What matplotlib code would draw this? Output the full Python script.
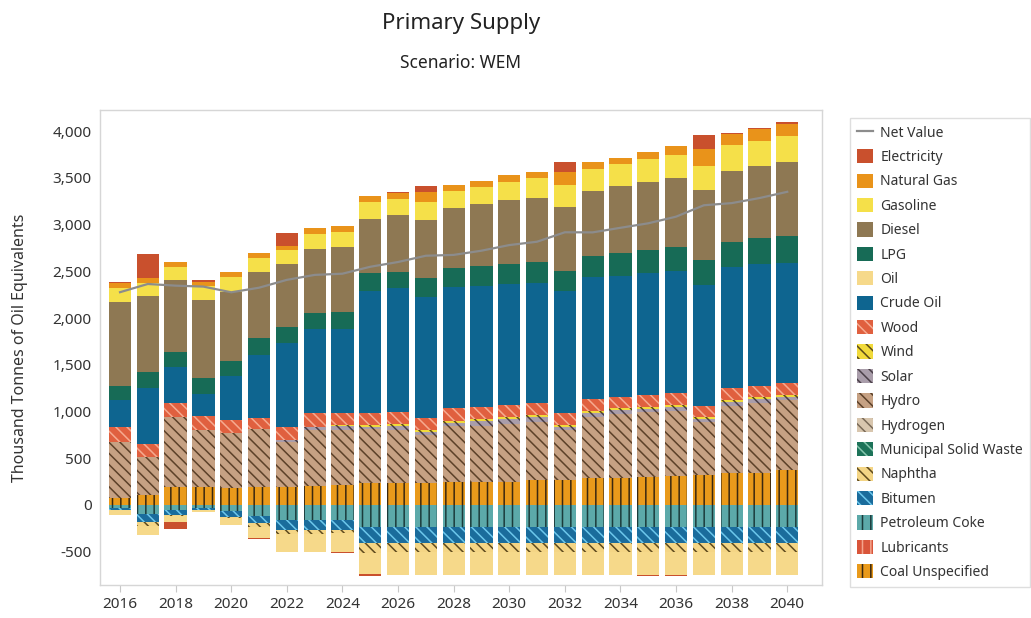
import matplotlib
matplotlib.use("Agg")
import matplotlib.pyplot as plt
import numpy as np
from matplotlib.patches import Patch
from matplotlib.lines import Line2D
from matplotlib.ticker import FuncFormatter

plt.rcParams['font.family'] = ['Noto Sans', 'DejaVu Sans']
plt.rcParams['hatch.linewidth'] = 1.1

years = list(range(2016, 2041))

# values in thousand tonnes of oil equivalent (positive = supply, negative = exports/etc.)
coal_unspecified = [70, 107, 189, 189, 178, 189, 196, 203, 214, 232, 232, 232, 250, 250, 250, 267, 267, 285, 285, 303, 310, 321, 339, 346, 374]
lubricants = [0] * 25
petroleum_coke = [-35, -100, -53, -35, -60, -118, -160, -160, -160, -232, -232, -232, -232, -232, -232, -232, -232, -232, -232, -232, -232, -232, -232, -232, -232]
bitumen = [-20, -78, -53, -20, -64, -71, -107, -107, -107, -178, -178, -178, -178, -178, -178, -178, -178, -178, -178, -178, -178, -178, -178, -178, -178]
naphtha = [0, -46, -15, 0, -15, -43, -46, -46, -36, -100, -89, -89, -89, -89, -89, -89, -89, -89, -89, -89, -89, -89, -89, -89, -89]
municipal_solid_waste = [0] * 25
hydrogen = [0] * 25
hydro = [607, 410, 755, 613, 595, 620, 479, 598, 588, 577, 574, 516, 590, 599, 621, 624, 537, 658, 687, 687, 698, 570, 722, 744, 745]
solar = [0, 0, 0, 0, 0, 0, 20, 30, 40, 25, 35, 32, 40, 45, 45, 50, 30, 40, 40, 40, 40, 30, 40, 40, 35]
wind = [0, 0, 0, 0, 0, 0, 0, 0, 14, 22, 22, 22, 22, 22, 22, 22, 22, 22, 22, 22, 22, 22, 22, 22, 22]
wood = [160, 135, 143, 150, 136, 125, 143, 149, 132, 132, 135, 125, 132, 136, 132, 131, 124, 125, 125, 124, 131, 118, 125, 121, 125]
crude_oil = [286, 596, 392, 235, 471, 670, 891, 899, 891, 1304, 1319, 1301, 1301, 1294, 1290, 1284, 1312, 1305, 1294, 1302, 1305, 1294, 1301, 1301, 1291]
oil = [-50, -96, -60, -16, -80, -118, -185, -185, -196, -232, -250, -250, -250, -250, -250, -250, -250, -250, -250, -250, -250, -250, -250, -250, -250]
lpg = [150, 178, 161, 168, 163, 179, 178, 178, 188, 186, 178, 203, 203, 214, 217, 224, 214, 232, 239, 249, 250, 267, 267, 278, 288]
diesel = [902, 809, 766, 837, 738, 706, 671, 678, 695, 584, 606, 617, 636, 656, 685, 678, 685, 695, 723, 731, 737, 748, 759, 774, 784]
gasoline = [143, 136, 143, 154, 160, 157, 150, 160, 160, 182, 171, 189, 189, 189, 196, 214, 232, 228, 228, 239, 250, 257, 275, 271, 282]
natural_gas = [53, 53, 53, 36, 53, 46, 46, 64, 61, 61, 61, 107, 61, 64, 71, 71, 143, 75, 71, 75, 100, 178, 118, 125, 128]
electricity = [10, 260, -75, 25, 0, -18, 132, 0, -10, -15, 15, 71, 0, 0, 0, 0, 100, 0, 0, -10, -10, 150, 10, 10, 25]

# (name, data, face colour, hatch, hatch colour) in stacking order (bottom first)
series = [
    ("Coal Unspecified", coal_unspecified, "#E99A1B", "||", "#3A2810"),
    ("Lubricants", lubricants, "#D9553A", "||", "#F4A48C"),
    ("Petroleum Coke", petroleum_coke, "#5CA9A9", "||", "#1B3B3B"),
    ("Bitumen", bitumen, "#1A6C9C", "\\" * 3, "#6CC7EC"),
    ("Naphtha", naphtha, "#F4D585", "\\" * 3, "#5E4A1E"),
    ("Municipal Solid Waste", municipal_solid_waste, "#1D7359", "\\" * 3, "#86C7AE"),
    ("Hydrogen", hydrogen, "#D8C6AE", "\\" * 3, "#7A6A58"),
    ("Hydro", hydro, "#C6A183", "\\" * 3, "#5C4129"),
    ("Solar", solar, "#A99DAA", "\\" * 3, "#4A3F48"),
    ("Wind", wind, "#F1DA3B", "\\" * 3, "#5A4A1A"),
    ("Wood", wood, "#E0603F", "\\" * 3, "#F6AA90"),
    ("Crude Oil", crude_oil, "#0E6590", None, None),
    ("Oil", oil, "#F6D98A", None, None),
    ("LPG", lpg, "#176B56", None, None),
    ("Diesel", diesel, "#8E7853", None, None),
    ("Gasoline", gasoline, "#F5E049", None, None),
    ("Natural Gas", natural_gas, "#E9931A", None, None),
    ("Electricity", electricity, "#C9502D", None, None),
]

fig = plt.figure(figsize=(10.31, 6.18), dpi=100)
ax = fig.add_axes([100 / 1031, 1 - 585 / 618, 722 / 1031, 475 / 618])

x = np.array(years, dtype=float)
pos_bottom = np.zeros(len(years))
neg_bottom = np.zeros(len(years))
width = 0.8
for name, data, fc, hatch, hc in series:
    d = np.array(data, dtype=float)
    pos = np.where(d > 0, d, 0)
    neg = np.where(d < 0, d, 0)
    kw = dict(width=width, color=fc, linewidth=0)
    if hatch:
        kw.update(hatch=hatch, edgecolor=hc)
    if pos.any():
        ax.bar(x, pos, bottom=pos_bottom, **kw)
    if neg.any():
        ax.bar(x, neg, bottom=neg_bottom, **kw)
    pos_bottom += pos
    neg_bottom += neg

net_value = pos_bottom + neg_bottom
ax.plot(x, net_value, color="#8C8C8C", linewidth=1.6, zorder=5)

ax.set_xlim(2015.28, 2041.25)
ax.set_ylim(-856, 4225)
ax.set_xticks(list(range(2016, 2041, 2)))
ax.set_yticks(list(range(-500, 4001, 500)))
ax.yaxis.set_major_formatter(FuncFormatter(lambda v, p: f"{int(v):,}"))
ax.tick_params(axis='x', length=5, color="#C8C8C8", labelsize=11, labelcolor="#333333", pad=4)
ax.tick_params(axis='y', length=0, labelsize=11, labelcolor="#333333", pad=6)
for s in ax.spines.values():
    s.set_color("#D6D6D6")
    s.set_linewidth(1.0)
ax.set_ylabel("Thousand Tonnes of Oil Equivalents", fontsize=11.5, color="#333333", labelpad=18)

cx = (100 + 822) / 2 / 1031
fig.text(cx, 1 - 23 / 618, "Primary Supply", ha="center", va="center", fontsize=16, color="#222222")
fig.text(cx, 1 - 63 / 618, "Scenario: WEM", ha="center", va="center", fontsize=12.5, color="#222222")

handles = [Line2D([0], [0], color="#8C8C8C", linewidth=1.6)]
labels = ["Net Value"]
for name, data, fc, hatch, hc in reversed(series):
    if hatch:
        handles.append(Patch(facecolor=fc, hatch=hatch, edgecolor=hc, linewidth=0))
    else:
        handles.append(Patch(facecolor=fc, linewidth=0))
    labels.append(name)

leg = fig.legend(handles, labels, loc="upper left", bbox_to_anchor=(847 / 1031, 1 - 115 / 618),
                 fontsize=10, frameon=True, fancybox=False, handlelength=1.2, handleheight=1.2,
                 handletextpad=0.5, labelspacing=0.62, borderpad=0.5, borderaxespad=0.2,
                 labelcolor="#333333")
leg.get_frame().set_edgecolor("#D6D6D6")
leg.get_frame().set_linewidth(1.0)

fig.savefig("out.png", dpi=100)
